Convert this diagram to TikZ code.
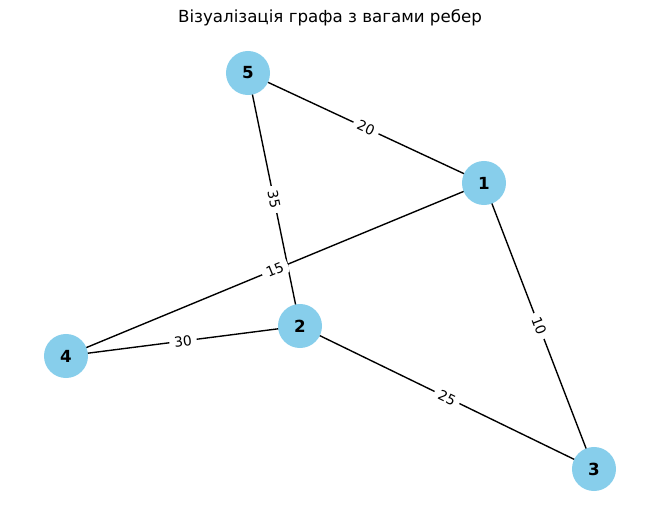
\documentclass[tikz,border=0pt]{standalone}
\usepackage{fontspec}
\setmainfont{DejaVu Sans}
\tikzset{
  vertex/.style={circle, fill=skyblue, draw=none, minimum size=31.7pt, inner sep=0pt, font=\fontsize{12}{14}\selectfont\bfseries},
  edge/.style={draw=black, line width=1pt},
  wlabel/.style={fill=white, inner xsep=3.5pt, inner ysep=2.5pt, rounded corners=3pt, font=\fontsize{10}{12}\selectfont, sloped},
}
\definecolor{skyblue}{HTML}{87CEEB}
\begin{document}
\begin{tikzpicture}[x=0.72pt, y=-0.72pt]
\useasboundingbox (0,0) rectangle (660,521);
\node[font=\fontsize{12}{14}\selectfont] (title) at (330,18) {Візуалізація графа з вагами ребер};
\coordinate (p5) at (248,73);
\coordinate (p1) at (484,183);
\coordinate (p2) at (300,326);
\coordinate (p4) at (66,356);
\coordinate (p3) at (594,469);
\draw[edge] (p5) -- (p1);
\draw[edge] (p5) -- (p2);
\draw[edge] (p4) -- (p1);
\draw[edge] (p4) -- (p2);
\draw[edge] (p2) -- (p3);
\draw[edge] (p1) -- (p3);
\path (p5) -- node[wlabel] (l51) {20} (p1);
\path (p5) -- node[wlabel] (l52) {35} (p2);
\path (p4) -- node[wlabel] (l41) {15} (p1);
\path (p4) -- node[wlabel] (l42) {30} (p2);
\path (p2) -- node[wlabel] (l23) {25} (p3);
\path (p1) -- node[wlabel] (l13) {10} (p3);
\node[vertex] (n5) at (p5) {5};
\node[vertex] (n1) at (p1) {1};
\node[vertex] (n2) at (p2) {2};
\node[vertex] (n4) at (p4) {4};
\node[vertex] (n3) at (p3) {3};
\end{tikzpicture}
\end{document}
